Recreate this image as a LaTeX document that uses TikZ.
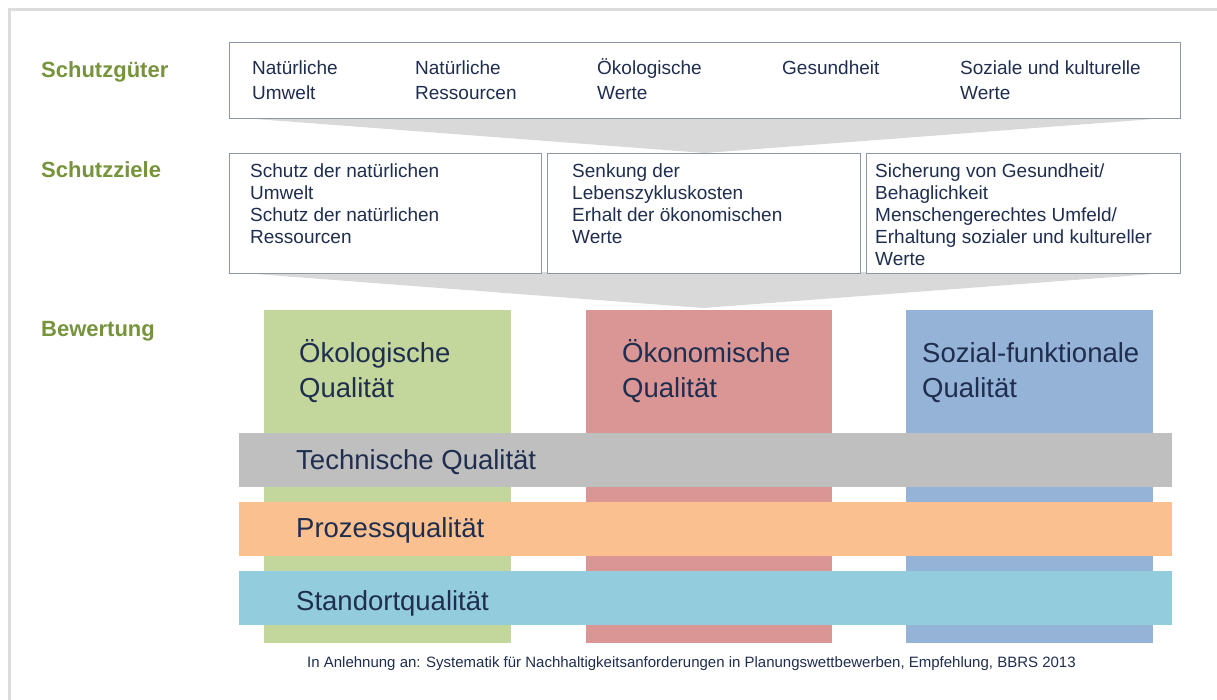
\documentclass[tikz,border=0pt]{standalone}
\usepackage{fontspec}
\setmainfont{Liberation Sans}
\definecolor{txt}{HTML}{1F2D4F}
\definecolor{lblgreen}{HTML}{77933C}
\definecolor{boxline}{HTML}{8E97A6}
\definecolor{funnelc}{HTML}{D9D9D9}
\definecolor{framec}{HTML}{DCDCDC}
\definecolor{colgreen}{HTML}{C3D69B}
\definecolor{colred}{HTML}{D99694}
\definecolor{colblue}{HTML}{95B3D7}
\definecolor{bandgray}{HTML}{BFBFBF}
\definecolor{bandorange}{HTML}{FAC090}
\definecolor{bandcyan}{HTML}{93CDDD}
\tikzset{
  box/.style={draw=boxline, line width=1.1pt, fill=white, anchor=north west, inner sep=0pt},
  colbox/.style={anchor=north west, inner sep=0pt, minimum width=247pt, minimum height=333pt},
  bandbox/.style={anchor=north west, inner sep=0pt, minimum width=933pt, minimum height=54pt},
  sidelabel/.style={anchor=base west, inner sep=0pt, text=lblgreen, font=\bfseries\fontsize{22}{26}\selectfont},
  gtext/.style={anchor=base west, inner sep=0pt, align=left, text=txt, font=\fontsize{19}{25}\selectfont},
  ztext/.style={anchor=base west, inner sep=0pt, align=left, text=txt, font=\fontsize{19}{21.8}\selectfont},
  coltext/.style={anchor=base west, inner sep=0pt, align=left, text=txt, font=\fontsize{27.5}{35}\selectfont},
  bandtext/.style={anchor=base west, inner sep=0pt, text=txt, font=\fontsize{27.5}{33}\selectfont},
  foot/.style={anchor=base west, inner sep=0pt, text=txt, font=\fontsize{15}{17}\selectfont}
}
\begin{document}
\begin{tikzpicture}[x=1pt,y=-1pt]
\useasboundingbox (0,0) rectangle (1217,700);
\fill[white] (0,0) rectangle (1217,700);
% outer frame
\draw[framec, line width=3pt] (9,700) -- (9,10) -- (1217,10);

% funnels
\fill[funnelc] (229,117) -- (1180,117) -- (705,153) -- cycle;
\fill[funnelc] (229,272) -- (1180,272) -- (703,308) -- cycle;

% side labels
\node[sidelabel] (lgueter) at (41,78) {Schutzgüter};
\node[sidelabel] (lziele) at (41,178) {Schutzziele};
\node[sidelabel] (lbew) at (41,336) {Bewertung};

% Schutzgüter box (anchors: baseline of last line)
\node[box, minimum width=951pt, minimum height=76pt] (gueter) at (229,42) {};
\node[gtext] (g1) at (252,100) {Natürliche\\Umwelt};
\node[gtext] (g2) at (415,100) {Natürliche\\Ressourcen};
\node[gtext] (g3) at (597,100) {Ökologische\\Werte};
\node[gtext] (g4) at (782,75) {Gesundheit};
\node[gtext] (g5) at (960,100) {Soziale und kulturelle\\Werte};

% Schutzziele boxes
\node[box, minimum width=312pt, minimum height=120pt] (z1) at (229,153) {};
\node[box, minimum width=313pt, minimum height=120pt] (z2) at (547,153) {};
\node[box, minimum width=314pt, minimum height=120pt] (z3) at (866,153) {};
\node[ztext] (z1t) at (250,243.4) {Schutz der natürlichen\\Umwelt\\Schutz der natürlichen\\Ressourcen};
\node[ztext] (z2t) at (572,243.4) {Senkung der\\Lebenszykluskosten\\Erhalt der ökonomischen\\Werte};
\node[ztext] (z3t) at (875,265.2) {Sicherung von Gesundheit/\\Behaglichkeit\\Menschengerechtes Umfeld/\\Erhaltung sozialer und kultureller\\Werte};

% columns
\node[colbox, fill=colgreen] (cgreen) at (264,310) {};
\node[colbox, fill=colred, minimum width=246pt] (cred) at (586,310) {};
\node[colbox, fill=colblue] (cblue) at (906,310) {};
\node[coltext] (t1) at (299,397) {Ökologische\\Qualität};
\node[coltext] (t2) at (622,397) {Ökonomische\\Qualität};
\node[coltext] (t3) at (922,397) {Sozial-funktionale\\Qualität};

% bands
\node[bandbox, fill=bandgray] (bgray) at (239,433) {};
\node[bandbox, fill=bandorange] (borange) at (239,502) {};
\node[bandbox, fill=bandcyan] (bcyan) at (239,571) {};
\node[bandtext] (tb1) at (296,469) {Technische Qualität};
\node[bandtext] (tb2) at (296,537) {Prozessqualität};
\node[bandtext] (tb3) at (296,610) {Standortqualität};

% footer
\node[foot] (footer) at (307,667) {In Anlehnung an: Systematik für Nachhaltigkeitsanforderungen in Planungswettbewerben, Empfehlung, BBRS 2013};
\end{tikzpicture}
\end{document}
